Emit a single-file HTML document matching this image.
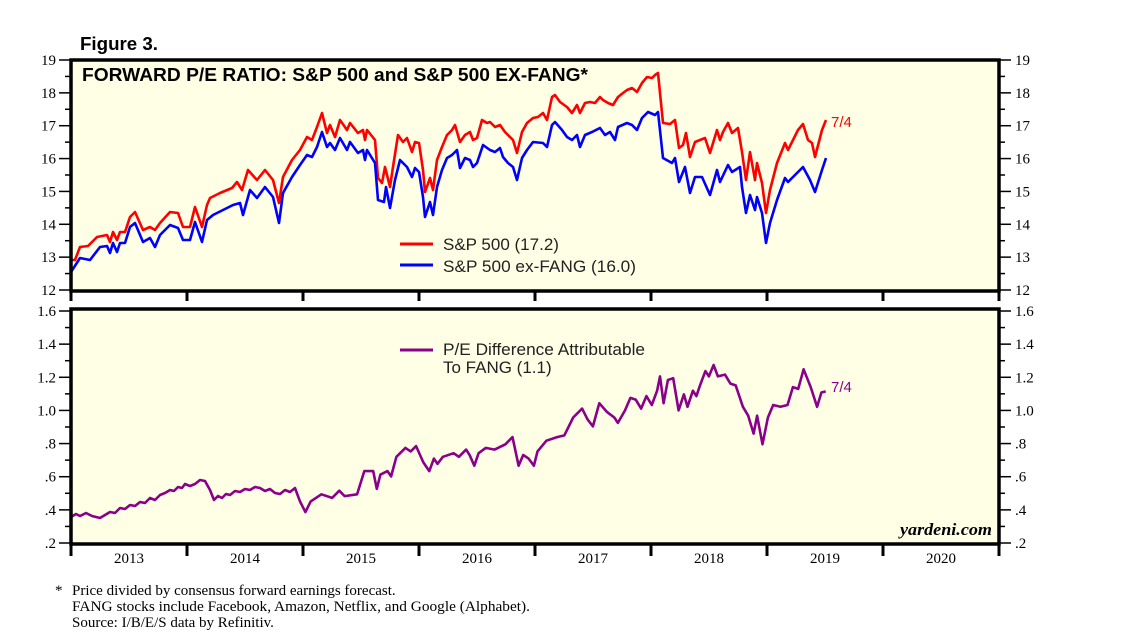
<!DOCTYPE html>
<html><head><meta charset="utf-8"><style>
html,body{margin:0;padding:0;background:#fff;}
svg{display:block;}
</style></head><body>
<svg id="c" width="1138" height="642" viewBox="0 0 1138 642" xmlns="http://www.w3.org/2000/svg" font-family="Liberation Sans, sans-serif">
<rect x="71" y="60" width="928" height="231" fill="#ffffe6"/>
<rect x="71" y="309" width="928" height="235" fill="#ffffe6"/>
<g id="ax"></g>
<g id="ser"></g>
<rect x="71" y="60" width="928" height="231" fill="none" stroke="#000" stroke-width="3.5"/>
<rect x="71" y="309" width="928" height="235" fill="none" stroke="#000" stroke-width="3.5"/>
<text x="80" y="50" font-size="18" font-weight="bold" textLength="78" lengthAdjust="spacingAndGlyphs">Figure 3.</text>
<text x="82" y="81" font-size="18" font-weight="bold" textLength="506" lengthAdjust="spacingAndGlyphs">FORWARD P/E RATIO: S&amp;P 500 and S&amp;P 500 EX-FANG*</text>
<line x1="400" y1="244" x2="433" y2="244" stroke="#ff0000" stroke-width="3"/>
<text x="443" y="250" font-size="17" fill="#222">S&amp;P 500 (17.2)</text>
<line x1="400" y1="265" x2="433" y2="265" stroke="#0000ff" stroke-width="3"/>
<text x="443" y="272" font-size="17" fill="#222" textLength="193" lengthAdjust="spacingAndGlyphs">S&amp;P 500 ex-FANG (16.0)</text>
<line x1="400" y1="350" x2="433" y2="350" stroke="#8b008b" stroke-width="3"/>
<text x="443" y="355" font-size="17" fill="#222" textLength="202" lengthAdjust="spacingAndGlyphs">P/E Difference Attributable</text>
<text x="443" y="373" font-size="17" fill="#222">To FANG (1.1)</text>
<text x="831" y="127" font-size="15" fill="#ff0000">7/4</text>
<text x="831" y="392" font-size="15" fill="#8b008b">7/4</text>
<text x="900" y="535" font-size="17" font-weight="bold" font-style="italic" font-family="Liberation Serif, serif" textLength="92" lengthAdjust="spacingAndGlyphs">yardeni.com</text>
<g font-family="Liberation Serif, serif" font-size="15" fill="#000">
<text x="55" y="595">*</text>
<text x="72" y="595">Price divided by consensus forward earnings forecast.</text>
<text x="72" y="611" textLength="458" lengthAdjust="spacingAndGlyphs">FANG stocks include Facebook, Amazon, Netflix, and Google (Alphabet).</text>
<text x="72" y="627">Source: I/B/E/S data by Refinitiv.</text>
</g>
</svg>
<script>
var NS="http://www.w3.org/2000/svg";
var ax=document.getElementById("ax"),ser=document.getElementById("ser");
function el(p,t,a,txt){var e=document.createElementNS(NS,t);for(var k in a)e.setAttribute(k,a[k]);if(txt)e.textContent=txt;p.appendChild(e);return e;}
function ln(x1,y1,x2,y2,w){el(ax,"line",{x1:x1,y1:y1,x2:x2,y2:y2,stroke:"#000","stroke-width":w||1.5});}
for(var v=12;v<=19;v+=0.5){var y=290-(v-12)*(230/7);var maj=(v%1===0);
 ln(maj?59:65,y,71,y);ln(999,y,maj?1011:1005,y);
 if(maj){el(ax,"text",{x:56,y:y+5,"font-size":15,"text-anchor":"end","font-family":"Liberation Serif, serif"},""+v);
 el(ax,"text",{x:1015,y:y+5,"font-size":15,"font-family":"Liberation Serif, serif"},""+v);}}
for(var i=2;i<=16;i++){var y=543-(i-2)*(232/14);var maj=(i%2===0);
 ln(maj?59:65,y,71,y);ln(999,y,maj?1011:1005,y);
 if(maj){var s=(i<10?"."+i:(i/10).toFixed(1));
 el(ax,"text",{x:56,y:y+5,"font-size":15,"text-anchor":"end","font-family":"Liberation Serif, serif"},s);
 el(ax,"text",{x:1015,y:y+5,"font-size":15,"font-family":"Liberation Serif, serif"},s);}}
for(var k=0;k<=8;k++){var x=71+k*116;ln(x,291,x,301,3);ln(x,544,x,556,3);
 if(k<8)el(ax,"text",{x:x+58,y:563,"font-size":15,"text-anchor":"middle","font-family":"Liberation Serif, serif"},""+(2013+k));}
function path(pts,col){var d="M"+pts.map(function(p){return p[0].toFixed(1)+","+p[1].toFixed(1);}).join("L");
 el(ser,"path",{d:d,fill:"none",stroke:col,"stroke-width":2.6,"stroke-linejoin":"round"});}
function tf(a,ox,oy,s){return a.map(function(p){return [p[0]/s+ox,p[1]/s+oy];});}
var red=[[71,260],[75,260],[80,247],[88,246],[97,237],[107,235],[110,242],[113,232],[117,240],[120,232],[125,232],[130,217],[135,212],[143,230],[150,227],[155,230],[160,223],[170,212],[178,213],[183,227],[190,227],[195,207],[202,227],[207,205],[210,198],[220,193],[232,188],[237,182],[242,190],[248,170],[257,180],[265,170],[273,180],[279,203],[283,177],[292,160],[300,150],[307,137],[312,140],[317,127],[322,113],[327,133],[330,125],[335,137],[340,120],[347,130],[350,123],[358,133],[363,130],[365,140],[367,130],[375,140],[378,178],[382,183],[385,167],[390,187],[393,167],[398,135],[403,142],[407,138],[412,152],[415,142],[419,143],[423,170],[425,192],[430,178],[433,190],[437,160],[442,147],[447,135],[452,130],[455,125],[460,142],[465,135],[470,132],[473,140],[477,138],[482,120],[487,123],[490,122],[495,127],[500,125],[505,132],[508,135],[513,140],[517,153],[522,132],[527,123],[533,118],[538,117],[543,113],[547,120],[552,97],[555,95],[560,102],[567,107],[572,113],[577,105],[580,113],[585,103],[590,102],[595,103],[600,97],[603,100],[608,103],[613,105],[618,97],[623,93],[627,90],[632,88],[637,92],[642,83],[647,77],[652,78],[655,75],[658,73],[663,123],[670,124],[675,120],[679,148],[683,145],[686,133],[690,157],[695,142],[700,140],[705,138],[710,153],[717,130],[720,140],[723,132],[728,123],[732,133],[738,128],[742,152],[746,180],[750,152],[755,180],[757,163],[762,183],[766,213],[770,190],[777,163],[785,143],[788,150],[793,140],[798,130],[803,124],[808,140],[812,143],[815,157],[822,130],[826,120]];
var blue=[[71,272],[80,258],[90,260],[100,247],[107,246],[110,253],[113,243],[117,252],[120,243],[125,243],[130,227],[135,223],[143,242],[150,238],[155,247],[160,235],[170,225],[178,228],[183,240],[190,240],[195,222],[202,242],[207,220],[213,215],[223,210],[233,205],[240,203],[243,215],[250,190],[257,198],[265,187],[273,197],[279,223],[283,193],[292,177],[300,165],[307,155],[312,157],[317,147],[322,132],[327,147],[330,143],[335,150],[340,138],[347,150],[350,142],[358,153],[363,150],[365,160],[367,150],[375,163],[378,200],[384,202],[386,187],[390,208],[395,180],[400,160],[407,167],[412,177],[415,168],[419,172],[423,197],[425,217],[430,202],[433,215],[437,187],[442,170],[447,158],[452,155],[457,150],[460,168],[465,158],[470,160],[473,167],[477,163],[483,145],[490,150],[495,152],[500,148],[503,157],[508,163],[513,167],[517,180],[522,158],[527,150],[533,142],[543,143],[547,147],[552,125],[555,122],[562,130],[567,137],[572,140],[577,135],[580,147],[585,135],[592,132],[600,128],[605,135],[610,132],[615,140],[618,127],[627,123],[632,125],[637,130],[642,118],[648,112],[655,115],[658,112],[663,158],[672,163],[675,158],[679,182],[685,167],[690,193],[695,177],[702,177],[710,195],[717,170],[720,182],[728,165],[732,172],[740,167],[742,187],[746,213],[750,195],[755,210],[757,197],[762,213],[766,243],[770,223],[777,200],[785,178],[788,182],[793,177],[803,167],[810,180],[815,192],[822,170],[826,158]];
var pz=[[0,480],[15,510],[30,480],[60,460],[90,470],[110,450],[125,465],[160,460],[180,395],[205,395],[215,445],[225,405],[245,395],[255,410],[270,355],[295,330],[310,340],[325,325],[345,370],[362,395],[375,360],[385,375],[400,355],[430,345],[445,355],[465,335],[475,350],[488,380],[500,345],[520,330],[545,335],[575,320],[595,300],[612,380],[625,350],[640,360],[655,380],[665,340],[690,310],[720,300],[740,295],[765,245],[790,220],[805,250],[820,270],[838,205],[860,230],[880,245],[890,260],[910,225],[925,190],[940,195],[955,220],[970,185],[985,210],[1000,170],[1008,130],[1018,205],[1030,140],[1045,135],[1060,225],[1075,180],[1085,215],[1100,170],[1110,185],[1120,155],[1135,115],[1145,130],[1158,98],[1170,130],[1190,125],[1205,150],[1220,155],[1240,215],[1255,240],[1270,290],[1280,240],[1295,320],[1310,245],[1325,210],[1345,215],[1365,210],[1380,160],[1395,165],[1410,110],[1430,160],[1448,215],[1460,175],[1472,172]];
var pur=[[71,517],[76,514],[80,516],[86,513],[92,516],[100,518],[105,515],[110,512],[115,513],[120,508],[125,509],[130,505],[135,506],[140,502],[145,503],[150,498],[155,500],[160,495],[165,493],[170,490],[174,491],[178,487],[182,488],[185,484],[190,486],[195,484],[200,480],[205,481],[210,490],[214,500],[218,496],[222,498],[226,494],[230,495],[235,491],[240,492],[245,489],[250,490],[255,487],[260,488],[265,491],[270,489],[275,493],[280,494],[285,490],[290,492],[295,488]].concat(tf(pz,300,330,2.8));
path(red,"#ff0000");path(blue,"#0000ff");path(pur,"#8b008b");
</script>
</body></html>
